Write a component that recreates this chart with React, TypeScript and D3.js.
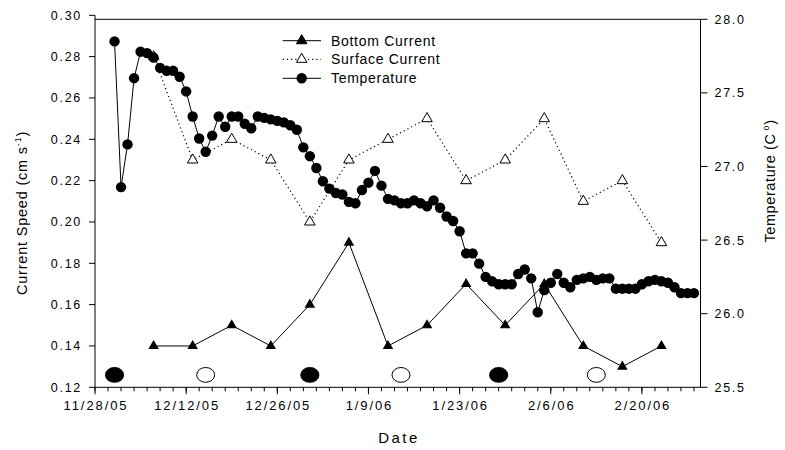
import * as d3 from 'd3'

const parse = d3.utcParse('%m/%d/%y')

// sampling dates for current meters (every 6 days)
const currentDates = [
  '12/7/05', '12/13/05', '12/19/05', '12/25/05', '12/31/05', '1/6/06', '1/12/06',
  '1/18/06', '1/24/06', '1/30/06', '2/5/06', '2/11/06', '2/17/06', '2/23/06',
]
const bottomCurrent = [0.14, 0.14, 0.15, 0.14, 0.16, 0.19, 0.14, 0.15, 0.17, 0.15, 0.17, 0.14, 0.13, 0.14]
const surfaceCurrent = [0.28, 0.23, 0.24, 0.23, 0.2, 0.23, 0.24, 0.25, 0.22, 0.23, 0.25, 0.21, 0.22, 0.19]

// daily temperature starting 12/1/05
const tempStart = '12/1/05'
const temperature = [
  27.85, 26.86, 27.15, 27.6, 27.78, 27.77, 27.74, 27.67, 27.65, 27.65,
  27.61, 27.51, 27.34, 27.19, 27.1, 27.21, 27.34, 27.27, 27.34, 27.34,
  27.29, 27.26, 27.34, 27.33, 27.32, 27.31, 27.3, 27.28, 27.25, 27.13,
  27.07, 26.99, 26.9, 26.85, 26.82, 26.81, 26.76, 26.75, 26.84, 26.89,
  26.97, 26.87, 26.78, 26.77, 26.75, 26.75, 26.77, 26.75, 26.73, 26.77,
  26.72, 26.66, 26.63, 26.56, 26.41, 26.41, 26.34, 26.25, 26.22, 26.2,
  26.2, 26.2, 26.27, 26.3, 26.24, 26.01, 26.16, 26.21, 26.27, 26.21,
  26.18, 26.23, 26.24, 26.25, 26.23, 26.24, 26.24, 26.17, 26.17, 26.17,
  26.17, 26.2, 26.22, 26.23, 26.22, 26.21, 26.18, 26.14, 26.14, 26.14,
]

// lunar phases
const newMoons = ['12/1/05', '12/31/05', '1/29/06']
const fullMoons = ['12/15/05', '1/14/06', '2/13/06']
const moonLevel = 0.126

const leftTicks = [0.12, 0.14, 0.16, 0.18, 0.2, 0.22, 0.24, 0.26, 0.28, 0.3]
const rightTicks = [25.5, 26.0, 26.5, 27.0, 27.5, 28.0]
const dateTicks = ['11/28/05', '12/12/05', '12/26/05', '1/9/06', '1/23/06', '2/6/06', '2/20/06']

const W = 785
const H = 450
const font = 'Liberation Sans, Arial, sans-serif'

export default function App() {
  const left = 95
  const right = 700.5
  const top = 15.3
  const frameTop = 19.3
  const bottom = 387.3

  const x = d3.scaleUtc().domain([parse('11/28/05')!, parse('3/1/06')!]).range([left, right])
  const yL = d3.scaleLinear().domain([0.12, 0.3]).range([bottom, top])
  const yR = d3.scaleLinear().domain([25.5, 28]).range([bottom, frameTop])

  const cDates = currentDates.map((d) => parse(d)!)
  const t0 = parse(tempStart)!
  const tDates = temperature.map((_, i) => d3.utcDay.offset(t0, i))

  const lineL = d3.line<[Date, number]>().x((d) => x(d[0])).y((d) => yL(d[1]))
  const lineR = d3.line<[Date, number]>().x((d) => x(d[0])).y((d) => yR(d[1]))

  const bottomPts: [Date, number][] = cDates.map((d, i) => [d, bottomCurrent[i]])
  const surfacePts: [Date, number][] = cDates.map((d, i) => [d, surfaceCurrent[i]])
  const tempPts: [Date, number][] = tDates.map((d, i) => [d, temperature[i]])

  const tri = d3.symbol(d3.symbolTriangle, 48)()!
  const minor = d3.utcDay.range(parse('11/28/05')!, parse('3/1/06')!, 2)
  const majorDates = dateTicks.map((d) => parse(d)!)

  const legend = [
    { label: 'Bottom Current', kind: 'bottom' },
    { label: 'Surface Current', kind: 'surface' },
    { label: 'Temperature', kind: 'temp' },
  ]
  const legendY = [40.7, 59.3, 78.3]

  return (
    <svg
      width={W}
      height={H}
      style={{ position: 'absolute', left: 0, top: 0, background: '#fff' }}
      fontFamily={font}
    >
      <rect width={W} height={H} fill="#fff" />

      {/* frame and axes */}
      <line x1={left} x2={right} y1={frameTop} y2={frameTop} stroke="#000" />
      <line x1={left} x2={left} y1={top} y2={bottom} stroke="#000" />
      <line x1={right} x2={right} y1={frameTop} y2={bottom} stroke="#000" />
      <line x1={left} x2={right} y1={bottom} y2={bottom} stroke="#000" />

      {leftTicks.map((t) => (
        <g key={'l' + t}>
          <line x1={left - 6} x2={left} y1={yL(t)} y2={yL(t)} stroke="#000" />
          <text x={left - 13} y={yL(t) + 4.5} fontSize={12.5} textAnchor="end" letterSpacing={1.7}>
            {t.toFixed(2)}
          </text>
        </g>
      ))}
      {rightTicks.map((t) => (
        <g key={'r' + t}>
          <line x1={right} x2={right + 7} y1={yR(t)} y2={yR(t)} stroke="#000" />
          <text x={right + 14} y={yR(t) + 4.5} fontSize={12.5} letterSpacing={1.7}>
            {t.toFixed(1)}
          </text>
        </g>
      ))}
      {minor.map((d, i) => (
        <line key={'m' + i} x1={x(d)} x2={x(d)} y1={bottom} y2={bottom + 4} stroke="#000" />
      ))}
      {majorDates.map((d, i) => (
        <g key={'d' + i}>
          <line x1={x(d)} x2={x(d)} y1={bottom} y2={bottom + 7} stroke="#000" />
          <text x={x(d) + 1} y={bottom + 23} fontSize={13} textAnchor="middle" letterSpacing={1.9}>
            {dateTicks[i]}
          </text>
        </g>
      ))}

      {/* axis titles */}
      <text x={399} y={443} fontSize={15} textAnchor="middle" letterSpacing={2.4}>
        Date
      </text>
      <text
        transform="translate(27,213) rotate(-90)"
        fontSize={14.5}
        textAnchor="middle"
        letterSpacing={0.8}
      >
        Current Speed (cm s
        <tspan dy={-6} fontSize={9}>-1</tspan>
        <tspan dy={6}>)</tspan>
      </text>
      <text
        transform="translate(775,181) rotate(-90)"
        fontSize={14.5}
        textAnchor="middle"
        letterSpacing={0.6}
      >
        Temperature (C
        <tspan dy={-6} dx={3} fontSize={9}>o</tspan>
        <tspan dy={6}>)</tspan>
      </text>

      {/* moon phases */}
      {newMoons.map((d) => (
        <ellipse key={d} cx={x(parse(d)!)} cy={yL(moonLevel)} rx={9.6} ry={7.8} fill="#000" />
      ))}
      {fullMoons.map((d) => (
        <ellipse
          key={d}
          cx={x(parse(d)!)}
          cy={yL(moonLevel)}
          rx={9}
          ry={7.4}
          fill="#fff"
          stroke="#000"
        />
      ))}

      {/* surface current */}
      <path d={lineL(surfacePts)!} fill="none" stroke="#000" strokeWidth={1.2} strokeDasharray="1.2,3" />
      {surfacePts.map((p, i) => (
        <path
          key={'s' + i}
          d={tri}
          transform={`translate(${x(p[0])},${yL(p[1])})`}
          fill="#fff"
          stroke="#000"
        />
      ))}

      {/* bottom current */}
      <path d={lineL(bottomPts)!} fill="none" stroke="#000" />
      {bottomPts.map((p, i) => (
        <path key={'b' + i} d={tri} transform={`translate(${x(p[0])},${yL(p[1])})`} fill="#000" />
      ))}

      {/* temperature */}
      <path d={lineR(tempPts)!} fill="none" stroke="#000" />
      {tempPts.map((p, i) => (
        <circle key={'t' + i} cx={x(p[0])} cy={yR(p[1])} r={5.2} fill="#000" />
      ))}

      {/* legend */}
      {legend.map((l, i) => {
        const ly = legendY[i]
        return (
          <g key={l.kind}>
            <line
              x1={282.7}
              x2={321}
              y1={ly}
              y2={ly}
              stroke="#000"
              strokeWidth={l.kind === 'surface' ? 1.2 : 1}
              strokeDasharray={l.kind === 'surface' ? '1.2,3' : undefined}
            />
            {l.kind === 'temp' ? (
              <circle cx={301.7} cy={ly} r={5.2} fill="#000" />
            ) : (
              <path
                d={tri}
                transform={`translate(301.7,${ly})`}
                fill={l.kind === 'bottom' ? '#000' : '#fff'}
                stroke="#000"
              />
            )}
            <text x={331} y={ly + 5} fontSize={14} letterSpacing={0.7}>
              {l.label}
            </text>
          </g>
        )
      })}
    </svg>
  )
}
